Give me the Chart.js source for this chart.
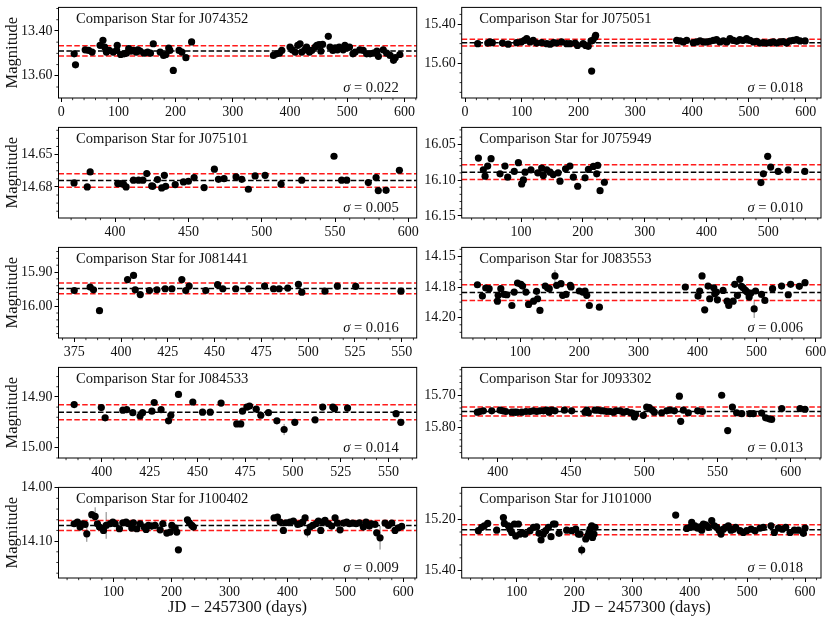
<!DOCTYPE html>
<html><head><meta charset="utf-8">
<script src="https://cdn.jsdelivr.net/npm/chart.js@4.4.0/dist/chart.umd.min.js"></script>
<style>
html,body{margin:0;padding:0;background:#fff}
body{width:831px;height:622px;position:relative;overflow:hidden}
canvas{position:absolute}
</style></head><body>
<script>
// ---------- DATA ----------
const starNames = ['J074352','J075051','J075101','J075949','J081441','J083553','J084533','J093302','J100402','J101000'];
const sigmaText = ['0.022','0.018','0.005','0.010','0.016','0.006','0.014','0.013','0.009','0.018'];
const meanMag  = [13.489, 15.495, 14.670, 16.089, 15.948, 14.1796, 14.930, 15.751, 14.0706, 15.2413];
const bandHalf = [0.023, 0.0172, 0.0052, 0.0103, 0.0157, 0.0065, 0.0148, 0.0140, 0.0094, 0.0194];
const xMin = [-4.7, -5.9, 361.4, 4.0, 366.6, 1.0, 377.3, 375.4, 5.2, 4.6];
const xMax = [621.5, 627, 605.7, 585.2, 558, 609, 564.8, 620.7, 623, 627.7];
const yMin = [13.295, 15.314, 14.629, 16.0265, 15.828, 14.1422, 14.842, 15.6126, 13.9995, 15.0774];
const yMax = [13.699, 15.779, 14.699, 16.153, 16.093, 14.2172, 15.020, 15.897, 14.169, 15.428];
const xTicks = [
  [0,100,200,300,400,500,600],[0,100,200,300,400,500,600],
  [400,450,500,550,600],[100,200,300,400,500],
  [375,400,425,450,475,500,525,550],[100,200,300,400,500,600],
  [400,425,450,475,500,525,550],[400,450,500,550,600],
  [100,200,300,400,500,600],[100,200,300,400,500,600]];
const yTicks = [
  [13.40,13.60],[15.40,15.60],[14.650,14.675],[16.05,16.10,16.15],[15.90,16.00],
  [14.150,14.175,14.200],[14.90,15.00],[15.70,15.80],[14.00,14.10],[15.20,15.40]];
const xMinorStep = [20,20,10,20,6.25,20,6.25,10,20,20];
const yMinorStep = [0.05,0.05,0.00625,0.01,0.02,0.00625,0.02,0.02,0.02,0.05];

const days1 = [22.7,25,42,48,54,68,73,76,79,84,91,97,98,104,110,114,118,122,126,131,134,138,145,151,156,161,173,179,183,188,190,196,206,211,218,228,
  371,377,381.5,385.6,400,404,409,413.6,417.6,420.6,426,429,434,438,444,447,451,454,457,467,470,475,479,483,486,493,496,500,504,510,514,522,528,534,540,546,552,554.5,563,569,575,581,584,592];
const mag1 = [13.502,13.551,13.484,13.487,13.494,13.464,13.442,13.472,13.494,13.487,13.494,13.487,13.464,13.505,13.502,13.499,13.479,13.490,13.487,13.494,13.484,13.490,13.499,13.494,13.499,13.457,13.494,13.509,13.505,13.476,13.487,13.576,13.487,13.494,13.519,13.449,
  13.509,13.502,13.499,13.487,13.472,13.484,13.494,13.464,13.457,13.494,13.484,13.472,13.494,13.487,13.472,13.464,13.461,13.490,13.460,13.424,13.472,13.487,13.475,13.484,13.472,13.484,13.464,13.475,13.472,13.502,13.494,13.484,13.487,13.502,13.502,13.499,13.490,13.513,13.484,13.499,13.509,13.531,13.519,13.505];

const days2 = [22.3,40,44,48,66,76,91,99,104.5,108.6,114.5,120,126,135,144,150,156,161,170,179,185,194,198,208,212.5,217,222,225,223,229,230,
  372.8,378.7,384.5,390.4,402,408,414,420,425.6,431.5,437.4,443,449,455,461,466.7,472.6,478.5,484,490,496,502,508,513.7,519.6,525.5,531,537,543,549,555,560.7,566.5,572.4,578,584,590,599];
const mag2 = [15.500,15.497,15.491,15.495,15.497,15.503,15.495,15.491,15.483,15.474,15.491,15.483,15.497,15.495,15.500,15.503,15.495,15.497,15.491,15.500,15.500,15.497,15.509,15.500,15.509,15.514,15.486,15.483,15.641,15.466,15.457,
  15.483,15.486,15.491,15.483,15.495,15.491,15.486,15.491,15.491,15.488,15.483,15.479,15.491,15.486,15.491,15.474,15.483,15.488,15.479,15.483,15.474,15.483,15.491,15.488,15.497,15.495,15.497,15.495,15.491,15.497,15.491,15.490,15.497,15.486,15.483,15.479,15.486,15.486];

const days3 = [372,381,383,401.8,403.9,405.7,407.5,412.5,416,419,421.6,425,425.7,428.9,431.8,433.6,434.5,441,446.6,450,453.9,460.7,467.7,470.5,474.3,482.5,486.4,490.9,495.5,502.3,513.2,527.3,549.3,554.5,558,572.7,578,579.5,584.8,593.9];
const mag3 = [14.6719,14.675,14.6634,14.6724,14.6724,14.6729,14.675,14.6698,14.6698,14.6698,14.6647,14.6742,14.6745,14.6693,14.6758,14.666,14.6745,14.6732,14.6711,14.6706,14.6678,14.6755,14.6613,14.6691,14.6686,14.6673,14.6691,14.6768,14.6665,14.666,14.6729,14.6698,14.6513,14.6698,14.6698,14.6716,14.6678,14.6778,14.6776,14.6621];

const days4 = [31,39,41.8,46,51.5,66,74,78.4,89,95.7,101,103.8,106.5,116,127,133.4,136,141.5,147,152,160,163,172,179,184.6,191.6,203.5,209,217,224,222.4,227.8,234.8,
  488,492,499,503.8,516,532,559];
const mag4 = [16.0693,16.0857,16.0946,16.0805,16.0702,16.0913,16.0805,16.096,16.088,16.0758,16.1054,16.0998,16.089,16.0857,16.0899,16.0833,16.0937,16.0857,16.089,16.0923,16.0899,16.1016,16.0843,16.0805,16.096,16.1087,16.0969,16.0852,16.081,16.0796,16.0913,16.1148,16.1031,
  16.1035,16.0913,16.0669,16.0819,16.088,16.0857,16.088];

const days5 = [375,383.5,385.3,388.5,403.5,406.7,407.6,410.3,415.2,419.2,423.6,427.2,432.5,434.6,436.4,445.3,451.6,454.4,461.3,468.1,476.7,481.5,484.5,489.1,494.8,496.6,509,515.6,525.4,549.6];
const mag5 = [15.954,15.944,15.952,16.013,15.922,15.910,15.952,15.966,15.954,15.952,15.949,15.949,15.922,15.954,15.941,15.954,15.937,15.949,15.949,15.949,15.941,15.949,15.949,15.947,15.936,15.959,15.956,15.941,15.942,15.956];

const days6 = [27.6,36,41.7,47.4,61.5,62.7,67.2,72.9,77.4,85.9,89.8,95.5,101.1,104,109.6,114.1,122.6,127.7,133.4,129.4,142.4,146.4,149.2,158.8,161.7,169,171.8,177.5,184.8,186,200,205.8,209.7,212.6,217,234,
  379.4,400.9,403.7,407.7,412.2,417.9,420.7,427.5,429.2,432,433.7,443.3,450.1,452.9,460.3,463.1,467.6,471.6,474.4,477.3,481.2,484,487.4,490.3,495.9,498.2,508.4,514,527,542.3,553.6,557.6,572.3,581.9];
const mag6 = [14.1731,14.1825,14.1758,14.1764,14.1867,14.1819,14.1764,14.1811,14.1814,14.1903,14.1792,14.1717,14.1728,14.1742,14.1792,14.1894,14.1867,14.1786,14.1944,14.1847,14.1742,14.1758,14.1764,14.1658,14.1736,14.1722,14.1819,14.1811,14.1736,14.175,14.1783,14.1792,14.1783,14.1819,14.1903,14.1917,
  14.175,14.1825,14.1783,14.1658,14.1939,14.1742,14.1847,14.1756,14.1806,14.1792,14.1856,14.1778,14.1867,14.1903,14.1867,14.1728,14.1819,14.1686,14.1744,14.1756,14.1778,14.1792,14.1833,14.18,14.1931,14.1783,14.1811,14.1861,14.1764,14.1742,14.1814,14.1728,14.1744,14.1714];

const days7 = [385.5,399.7,401.7,411,413,416.2,420,421.3,426.2,427.4,431,434.9,436.1,440.1,447.6,452.7,456.7,462.4,470.6,472.7,473.6,475.9,477.3,480.8,483.2,487.2,491.6,495.4,501,511.6,515.6,520.9,521.8,528.6,554,556.5];
const mag7 = [14.915,14.921,14.941,14.926,14.925,14.931,14.9375,14.931,14.928,14.911,14.925,14.947,14.936,14.895,14.910,14.930,14.930,14.912,14.953,14.953,14.928,14.920,14.918,14.924,14.936,14.931,14.947,14.964,14.950,14.945,14.920,14.920,14.923,14.922,14.933,14.950];

const days8 = [386.1,387.9,390.2,395.9,401.6,403.4,405.5,409.6,411.4,413,416.4,419.3,422.1,424.3,426.6,428.9,431.2,433.4,435,436.9,
  439.1,445.5,450.5,459.6,460.8,461.9,466.4,468.3,470.5,472.1,474.4,476.7,479,480.8,483.5,485.8,488.1,490.8,491.9,493.3,
  494.2,499.4,501.7,503.5,505.6,506.9,511.9,515.4,517.6,520.6,524,524.9,526.7,530.1,536.5,539.7,552.9,557,560.2,563.1,
  566.6,572.2,574.5,580.2,582.9,585.2,587,593.9,606.4,609.8];
const mag8 = [15.753,15.751,15.749,15.749,15.747,15.749,15.751,15.753,15.753,15.753,15.753,15.751,15.751,15.749,15.751,15.749,15.749,15.747,15.753,15.747,
  15.749,15.747,15.749,15.753,15.747,15.755,15.747,15.747,15.749,15.749,15.751,15.751,15.753,15.749,15.749,15.753,15.751,15.755,15.756,15.768,
  15.760,15.763,15.737,15.739,15.747,15.753,15.755,15.749,15.747,15.749,15.703,15.782,15.747,15.755,15.749,15.751,15.700,15.811,15.737,15.755,
  15.758,15.758,15.758,15.756,15.771,15.774,15.776,15.742,15.742,15.744];

const days9 = [32.2,37.9,42.5,47.1,51.1,54,62.6,68.4,72.4,75.9,82.8,87.4,94.3,98.9,102.9,110.3,116.1,121.8,125.9,131.6,134.5,140.2,146,152.9,156.3,160.3,166.1,171.8,180.5,185.1,192,197.7,200.6,206.3,209.2,212,227.6,231,235.1,237.9,
  377,382.8,387.4,393.1,397.7,404.6,410.3,417.8,421.8,426.4,430.5,434.5,439.1,443.7,449.4,453.4,457.5,460.9,464.9,470.7,476.4,482.2,486.2,490.8,496.6,502.3,506.9,512.6,518.4,524.1,531,535.6,541.4,545.4,551.1,554,559.8,568.4,574.1,579.9,585.6,591.4,597.1];
const mag9 = [14.0675,14.0644,14.0738,14.0675,14.0688,14.0863,14.0506,14.0538,14.0675,14.0738,14.08,14.0706,14.0675,14.0644,14.0675,14.0769,14.0656,14.0644,14.0675,14.0756,14.0656,14.0769,14.0675,14.0738,14.0781,14.0706,14.0719,14.0706,14.0788,14.0675,14.085,14.0831,14.0706,14.075,14.0831,14.1163,14.06,14.0656,14.0706,14.0738,
  14.0563,14.055,14.0644,14.08,14.0656,14.0644,14.0625,14.0688,14.0675,14.0644,14.0563,14.0831,14.0738,14.0706,14.0675,14.0625,14.08,14.0644,14.0613,14.0675,14.0719,14.0563,14.0663,14.0788,14.0663,14.0644,14.0675,14.0663,14.0675,14.0656,14.0738,14.0644,14.0719,14.0675,14.0688,14.0844,14.0938,14.0663,14.0706,14.0663,14.08,14.075,14.0725];

const days10 = [33.5,39.3,43.9,49.7,65.3,76.9,78.6,85.5,88.4,91.3,96,98.3,102.9,105.8,109.8,114.5,123.1,128.9,134.7,138.7,142.2,146.2,150.3,154.9,159.5,163.6,166.5,173.4,186.7,195.4,202.3,206.9,209.8,212.7,219.7,223.1,225.4,227.2,230.1,235.8,234,231.5,
  375.7,394.8,400.6,403.5,409.2,413.9,417.9,420.8,423.7,427.7,432.4,438.2,442.8,446.8,450.9,454.3,458.4,462.4,467,471.7,475.7,479.8,487.3,493.1,498.8,506.4,513.3,522,527.7,541,546.8,553.8,560.7,566.5,574,581.5,588.4,597.1,600];
const mag10 = [15.245,15.232,15.226,15.217,15.243,15.194,15.217,15.226,15.239,15.252,15.219,15.265,15.219,15.258,15.252,15.258,15.245,15.232,15.230,15.255,15.281,15.258,15.245,15.232,15.268,15.219,15.219,15.255,15.243,15.245,15.239,15.258,15.258,15.320,15.277,15.265,15.252,15.239,15.226,15.232,15.258,15.271,
  15.1845,15.236,15.232,15.213,15.226,15.235,15.230,15.243,15.219,15.222,15.232,15.206,15.226,15.232,15.243,15.258,15.239,15.232,15.226,15.243,15.239,15.232,15.245,15.252,15.245,15.239,15.245,15.235,15.232,15.226,15.252,15.235,15.239,15.232,15.252,15.243,15.243,15.255,15.235];

// visible error bars: point index within the panel and half-length in magnitudes
const errIdx  = [[],[],[],[25,31],[],[23,60],[27,32],[50,51],[5,7,11,26,27,51,75,76],[33]];
const errSize = [[],[],[],[0.004,0.004],[],[0.005,0.0075],[0.011,0.006],[0.008,0.006],[0.015,0.017,0.025,0.008,0.008,0.01,0.006,0.022],[0.02]];

const allDays = [days1,days2,days3,days4,days5,days6,days7,days8,days9,days10];
const allMags = [mag1,mag2,mag3,mag4,mag5,mag6,mag7,mag8,mag9,mag10];

// ---------- DRAWING ----------
const FONT = '"Liberation Serif","DejaVu Serif",serif';
Chart.defaults.font.family = FONT;
Chart.defaults.color = '#000';

const errorBars = {
  id: 'errorBars',
  beforeDatasetsDraw(chart, args, opts) {
    const k = opts.k;
    const {ctx, scales: {x, y}, chartArea: a} = chart;
    ctx.save();
    ctx.beginPath(); ctx.rect(a.left, a.top, a.right - a.left, a.bottom - a.top); ctx.clip();
    ctx.strokeStyle = '#808080'; ctx.lineWidth = 1;
    ctx.beginPath();
    errIdx[k].forEach((i, j) => {
      const px = x.getPixelForValue(allDays[k][i]);
      ctx.moveTo(px, y.getPixelForValue(allMags[k][i] - errSize[k][j]));
      ctx.lineTo(px, y.getPixelForValue(allMags[k][i] + errSize[k][j]));
    });
    ctx.stroke();
    ctx.restore();
  }
};

const decor = {
  id: 'decor',
  afterDraw(chart, args, opts) {
    const {ctx, chartArea: a, scales: {x, y}} = chart;
    const k = opts.k;
    ctx.save();
    ctx.strokeStyle = '#000'; ctx.lineWidth = 0.8;
    ctx.beginPath();
    const xs = xMinorStep[k];
    for (let v = Math.ceil(xMin[k] / xs) * xs; v <= xMax[k]; v += xs) {
      if (xTicks[k].some(t => Math.abs(t - v) < 1e-6)) continue;
      const px = x.getPixelForValue(v);
      ctx.moveTo(px, a.bottom); ctx.lineTo(px, a.bottom + 2.2);
    }
    const ys = yMinorStep[k];
    for (let v = Math.ceil(yMin[k] / ys - 1e-9) * ys; v <= yMax[k]; v += ys) {
      if (yTicks[k].some(t => Math.abs(t - v) < 1e-7)) continue;
      const py = y.getPixelForValue(v);
      ctx.moveTo(a.left, py); ctx.lineTo(a.left - 2.2, py);
    }
    ctx.stroke();
    ctx.lineWidth = 1;
    ctx.strokeRect(a.left, a.top, a.right - a.left, a.bottom - a.top);
    ctx.fillStyle = '#111';
    ctx.textBaseline = 'middle';
    ctx.textAlign = 'left';
    ctx.font = '14.6px ' + FONT;
    ctx.fillText('Comparison Star for ' + starNames[k], a.left + 17.5, a.top + 11.5);
    const rest = ' = ' + sigmaText[k];
    const wr = ctx.measureText(rest).width;
    ctx.textAlign = 'right';
    ctx.fillText(rest, a.right - 18, a.bottom - 10);
    ctx.font = 'italic 14.6px ' + FONT;
    ctx.fillText('\u03C3', a.right - 18 - wr, a.bottom - 10);
    ctx.restore();
  }
};

function hline(k, val, color) {
  return {
    type: 'line',
    data: [{x: xMin[k], y: val}, {x: xMax[k], y: val}],
    borderColor: color, borderWidth: 1.5, borderDash: [5.5, 2.4],
    pointRadius: 0, fill: false, order: 2
  };
}

for (let k = 0; k < 10; k++) {
  const col = k % 2, row = Math.floor(k / 2);
  const plotL = col ? 461.7 : 58.5, plotR = col ? 821 : 416.7;
  const plotT = 7.3 + 120 * row;
  const canvasL = col ? 419 : 0;
  const canvasW = col ? 831 - 419 : 427;
  const padRight = canvasL + canvasW - plotR;
  const canvasT = Math.floor(plotT) - 10;
  const padTop = plotT - canvasT;
  const xH = row === 4 ? 44 : 24;
  const canvasH = Math.ceil(padTop + 90 + xH);
  const yW = plotL - canvasL;

  const cv = document.createElement('canvas');
  cv.width = canvasW; cv.height = canvasH;
  cv.style.left = canvasL + 'px'; cv.style.top = canvasT + 'px';
  cv.style.width = canvasW + 'px'; cv.style.height = canvasH + 'px';
  document.body.appendChild(cv);

  const pts = allDays[k].map((d, i) => ({x: d, y: allMags[k][i]}));
  const m = meanMag[k], b = bandHalf[k];

  new Chart(cv, {
    type: 'scatter',
    data: {
      datasets: [
        {data: pts, pointRadius: 3.6, pointBackgroundColor: '#000', pointBorderWidth: 0, pointBorderColor: '#000', order: 0},
        hline(k, m - b, '#ff1a1a'),
        hline(k, m, '#000'),
        hline(k, m + b, '#ff1a1a')
      ]
    },
    options: {
      responsive: false, animation: false, events: [],
      devicePixelRatio: 1,
      layout: {padding: {top: padTop, right: padRight, left: 0, bottom: 0}},
      plugins: {legend: {display: false}, tooltip: {enabled: false}, decor: {k: k}, errorBars: {k: k}},
      scales: {
        x: {
          type: 'linear', min: xMin[k], max: xMax[k],
          afterBuildTicks: s => { s.ticks = xTicks[k].map(v => ({value: v})); },
          afterFit: s => { s.height = xH; },
          grid: {drawOnChartArea: false, drawTicks: true, tickLength: 4, tickColor: '#000', tickWidth: 1},
          border: {display: false},
          ticks: {font: {size: 14}, padding: 2, maxRotation: 0, autoSkip: false, color: '#111', callback: v => String(v)},
          title: {display: row === 4, text: 'JD \u2212 2457300 (days)', font: {size: 16.5}, color: '#111', padding: {top: 0, bottom: 4}}
        },
        y: {
          type: 'linear', reverse: true, min: yMin[k], max: yMax[k],
          afterBuildTicks: s => { s.ticks = yTicks[k].map(v => ({value: v})); },
          afterFit: s => { s.width = yW; },
          grid: {drawOnChartArea: false, drawTicks: true, tickLength: 4, tickColor: '#000', tickWidth: 1},
          border: {display: false},
          ticks: {font: {size: 14}, padding: 2, autoSkip: false, color: '#111', callback: v => Number(v).toFixed(2)},
          title: {display: col === 0, text: 'Magnitude', font: {size: 16.5}, color: '#111', padding: {top: 3, bottom: 0}}
        }
      }
    },
    plugins: [decor, errorBars]
  });
}
</script>
</body></html>
